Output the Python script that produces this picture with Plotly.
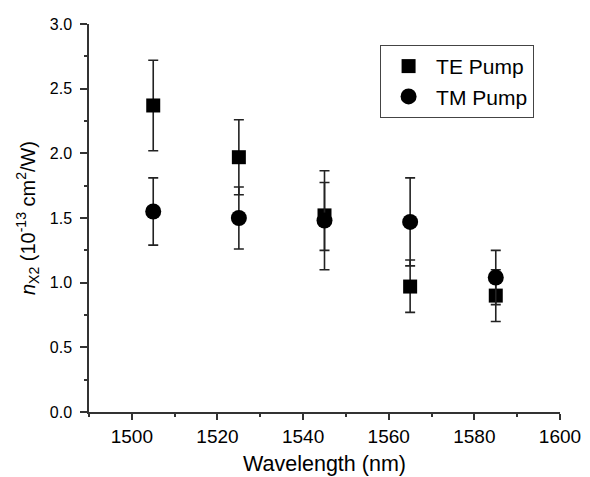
import plotly.graph_objects as go

wavelength = [1505, 1525, 1545, 1565, 1585]

te_val = [2.37, 1.97, 1.52, 0.97, 0.90]
te_err_plus = [0.35, 0.29, 0.345, 0.205, 0.20]
te_err_minus = [0.35, 0.29, 0.42, 0.20, 0.20]

tm_val = [1.55, 1.50, 1.48, 1.47, 1.04]
tm_err_plus = [0.26, 0.24, 0.295, 0.34, 0.21]
tm_err_minus = [0.26, 0.24, 0.23, 0.34, 0.21]

x_ticks = [1500, 1520, 1540, 1560, 1580, 1600]
y_ticks = [0.0, 0.5, 1.0, 1.5, 2.0, 2.5, 3.0]

FONT = "Liberation Sans, Arial, sans-serif"

fig = go.Figure()
fig.add_trace(go.Scatter(
    x=wavelength, y=te_val, mode="markers", name="TE Pump",
    marker=dict(symbol="square", size=14, color="black"),
    error_y=dict(type="data", symmetric=False, array=te_err_plus,
                 arrayminus=te_err_minus, color="#222", thickness=1.6, width=5),
))
fig.add_trace(go.Scatter(
    x=wavelength, y=tm_val, mode="markers", name="TM Pump",
    marker=dict(symbol="circle", size=16, color="black"),
    error_y=dict(type="data", symmetric=False, array=tm_err_plus,
                 arrayminus=tm_err_minus, color="#222", thickness=1.6, width=5),
))

fig.update_layout(
    width=590, height=477,
    margin=dict(l=89, r=30, t=24, b=65, autoexpand=False),
    paper_bgcolor="white", plot_bgcolor="white",
    font=dict(family=FONT, size=17, color="black"),
    showlegend=True,
    legend=dict(
        x=0.618, y=0.946, xanchor="left", yanchor="top",
        bordercolor="#444", borderwidth=1, bgcolor="white",
        itemwidth=45,
        font=dict(family=FONT, size=21, color="black"),
    ),
)
fig.update_xaxes(
    range=[1490, 1600], tickvals=x_ticks, ticks="outside", ticklen=6,
    tickwidth=1.5, tickcolor="#333", showline=True, linecolor="#333",
    linewidth=1.5, showgrid=False, zeroline=False,
    tickfont=dict(family=FONT, size=19),
    minor=dict(dtick=10, tick0=1490, ticks="outside", ticklen=3,
               tickwidth=1.5, tickcolor="#333"),
    title=dict(text="Wavelength (nm)", font=dict(family=FONT, size=21.5), standoff=10),
)
fig.update_yaxes(
    range=[0, 3.0], tickvals=y_ticks, tickformat=".1f", ticks="outside",
    ticklen=7, tickwidth=1.5, tickcolor="#333", showline=True,
    linecolor="#333", linewidth=1.5, showgrid=False, zeroline=False,
    tickfont=dict(family=FONT, size=16), ticklabelstandoff=5,
    minor=dict(dtick=0.25, tick0=0, ticks="outside", ticklen=3,
               tickwidth=1.5, tickcolor="#333"),
    title=dict(text="<i>n</i><sub>X2</sub> (10<sup>-13</sup> cm<sup>2</sup>/W)",
               font=dict(family=FONT, size=20), standoff=9),
)

fig.write_html("out.html")
